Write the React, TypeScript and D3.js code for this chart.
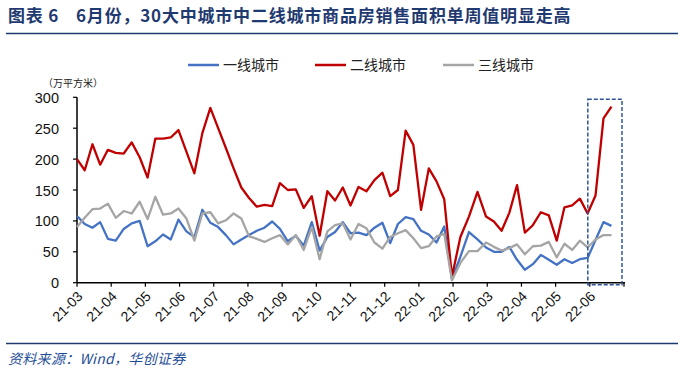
import React from "react";
import * as d3 from "d3";

const title1 = "图表 6";
const title2 = "6月份，30大中城市中二线城市商品房销售面积单周值明显走高";
const unitLabel = "（万平方米）";
const sourceText = "资料来源：Wind，华创证券";

const seriesNames = ["一线城市", "二线城市", "三线城市"];
const seriesColors = ["#4472C4", "#C00000", "#A5A5A5"];

const monthLabels = ["21-03", "21-04", "21-05", "21-06", "21-07", "21-08", "21-09", "21-10", "21-11", "21-12", "22-01", "22-02", "22-03", "22-04", "22-05", "22-06"];
const yTicks = [0, 50, 100, 150, 200, 250, 300];

const firstWeek = new Date(2021, 2, 1);

const tier1 = [108, 95, 89, 98, 71, 68, 87, 96, 100, 59,
  67, 78, 70, 102, 83, 74, 118, 97, 90, 77,
  62, 70, 77, 84, 89, 99, 87, 67, 76, 60,
  98, 52, 74, 82, 98, 80, 81, 77, 89, 97,
  64, 95, 106, 103, 84, 78, 65, 91, 6, 42,
  82, 70, 57, 50, 50, 58, 37, 21, 30, 45,
  37, 29, 38, 32, 38, 40, 69, 98, 92];

const tier2 = [200, 182, 224, 191, 215, 210, 209, 227, 203, 170,
  233, 233, 235, 247, 212, 177, 242, 283, 250, 218,
  185, 154, 137, 123, 126, 124, 161, 150, 151, 121,
  140, 76, 148, 133, 154, 125, 155, 148, 166, 178,
  140, 150, 246, 223, 118, 185, 164, 135, 10, 74,
  107, 147, 107, 99, 84, 113, 158, 81, 93, 114,
  109, 68, 122, 125, 136, 112, 141, 266, 285];

const tier3 = [90, 105, 119, 120, 128, 105, 116, 112, 131, 103,
  139, 110, 112, 120, 104, 68, 112, 114, 96, 101,
  112, 104, 75, 71, 66, 72, 77, 62, 77, 53,
  90, 38, 83, 93, 96, 70, 95, 88, 65, 55,
  74, 80, 85, 72, 56, 59, 75, 79, 4, 32,
  51, 51, 65, 58, 52, 56, 62, 46, 59, 60,
  66, 41, 63, 53, 68, 57, 70, 77, 77];

const W = 680, H = 383;
const plotLeft = 77, plotRight = 624, plotTop = 97.3, plotBottom = 282.7;
const navy = "#1F3A70";

// fractional months since 2021-03-01
function monthPos(d: Date) {
  const m = (d.getFullYear() - 2021) * 12 + d.getMonth() - 2;
  const dim = new Date(d.getFullYear(), d.getMonth() + 1, 0).getDate();
  return m + (d.getDate() - 1) / dim;
}

export default function App() {
  const dates = tier1.map((_, i) => d3.timeDay.offset(firstWeek, 7 * i));
  const x = d3.scaleLinear().domain([0, monthLabels.length]).range([plotLeft, plotRight]);
  const y = d3.scaleLinear().domain([0, 300]).range([plotBottom, plotTop]);
  const line = d3.line<number>()
    .x((_, i) => x(monthPos(dates[i])))
    .y((v) => y(v));
  const series = [tier1, tier2, tier3];
  const tickIdx = d3.range(monthLabels.length + 1);
  const legendX = [188, 315, 443];
  const cjk = "'Noto Sans CJK SC', 'Noto Sans', sans-serif";
  const num = "'Liberation Sans', Arial, sans-serif";

  return (
    <svg width={W} height={H} style={{ position: "absolute", left: 0, top: 0, background: "#fff" }}>
      <rect width={W} height={H} fill="#fff" />
      {/* title */}
      <text x={8} y={22} fontFamily={cjk} fontWeight="bold" fontSize={17} fill={navy} letterSpacing={0.8}>{title1}</text>
      <text x={76} y={22} fontFamily={cjk} fontWeight="bold" fontSize={17} fill={navy} letterSpacing={0.8}>{title2}</text>
      <line x1={6} x2={678} y1={33.5} y2={33.5} stroke={navy} strokeWidth={1.3} />

      {/* legend */}
      {seriesNames.map((n, k) => (
        <g key={n}>
          <line x1={legendX[k]} x2={legendX[k] + 31} y1={65} y2={65} stroke={seriesColors[k]} strokeWidth={2.5} />
          <text x={legendX[k] + 35} y={70} fontFamily={cjk} fontSize={14} fill="#222">{n}</text>
        </g>
      ))}

      {/* unit */}
      <text x={43} y={87} fontFamily={cjk} fontSize={10} fill="#222">{unitLabel}</text>

      {/* y axis */}
      <line x1={plotLeft} x2={plotLeft} y1={plotTop} y2={plotBottom} stroke="#000" strokeWidth={1.5} />
      {yTicks.map((t) => (
        <g key={t}>
          <line x1={plotLeft - 4} x2={plotLeft} y1={y(t)} y2={y(t)} stroke="#000" strokeWidth={1.2} />
          <text x={plotLeft - 18} y={y(t)} dy="0.38em" textAnchor="end" fontFamily={num} fontSize={14.5} fill="#111">{t}</text>
        </g>
      ))}

      {/* series */}
      {series.map((s, k) => (
        <path key={k} d={line(s) || ""} fill="none" stroke={seriesColors[k]} strokeWidth={2.3} strokeLinejoin="round" />
      ))}

      {/* x axis */}
      <line x1={plotLeft} x2={plotRight + 1} y1={plotBottom} y2={plotBottom} stroke="#000" strokeWidth={1.5} />
      {tickIdx.map((i) => (
        <line key={i} x1={x(i)} x2={x(i)} y1={plotBottom} y2={plotBottom + 4} stroke="#000" strokeWidth={1.2} />
      ))}
      {monthLabels.map((l, i) => (
        <text key={l} transform={`translate(${x(i) + 3},${plotBottom + 11}) rotate(-45)`} textAnchor="end" dy="0.35em"
          fontFamily={num} fontSize={14} fill="#111">{l}</text>
      ))}

      {/* highlight box */}
      <rect x={x(15) - 2} y={y(297)} width={x(16) - x(15)} height={y(0) - y(297) + 2}
        fill="none" stroke="#2F5597" strokeWidth={1.5} strokeDasharray="4,2" />

      {/* footer */}
      <line x1={6} x2={678} y1={343.5} y2={343.5} stroke={navy} strokeWidth={1.3} />
      <text x={8} y={364} fontFamily={cjk} fontStyle="italic" fontSize={14} fill="#1F4E99" letterSpacing={0.3}>{sourceText}</text>
    </svg>
  );
}
